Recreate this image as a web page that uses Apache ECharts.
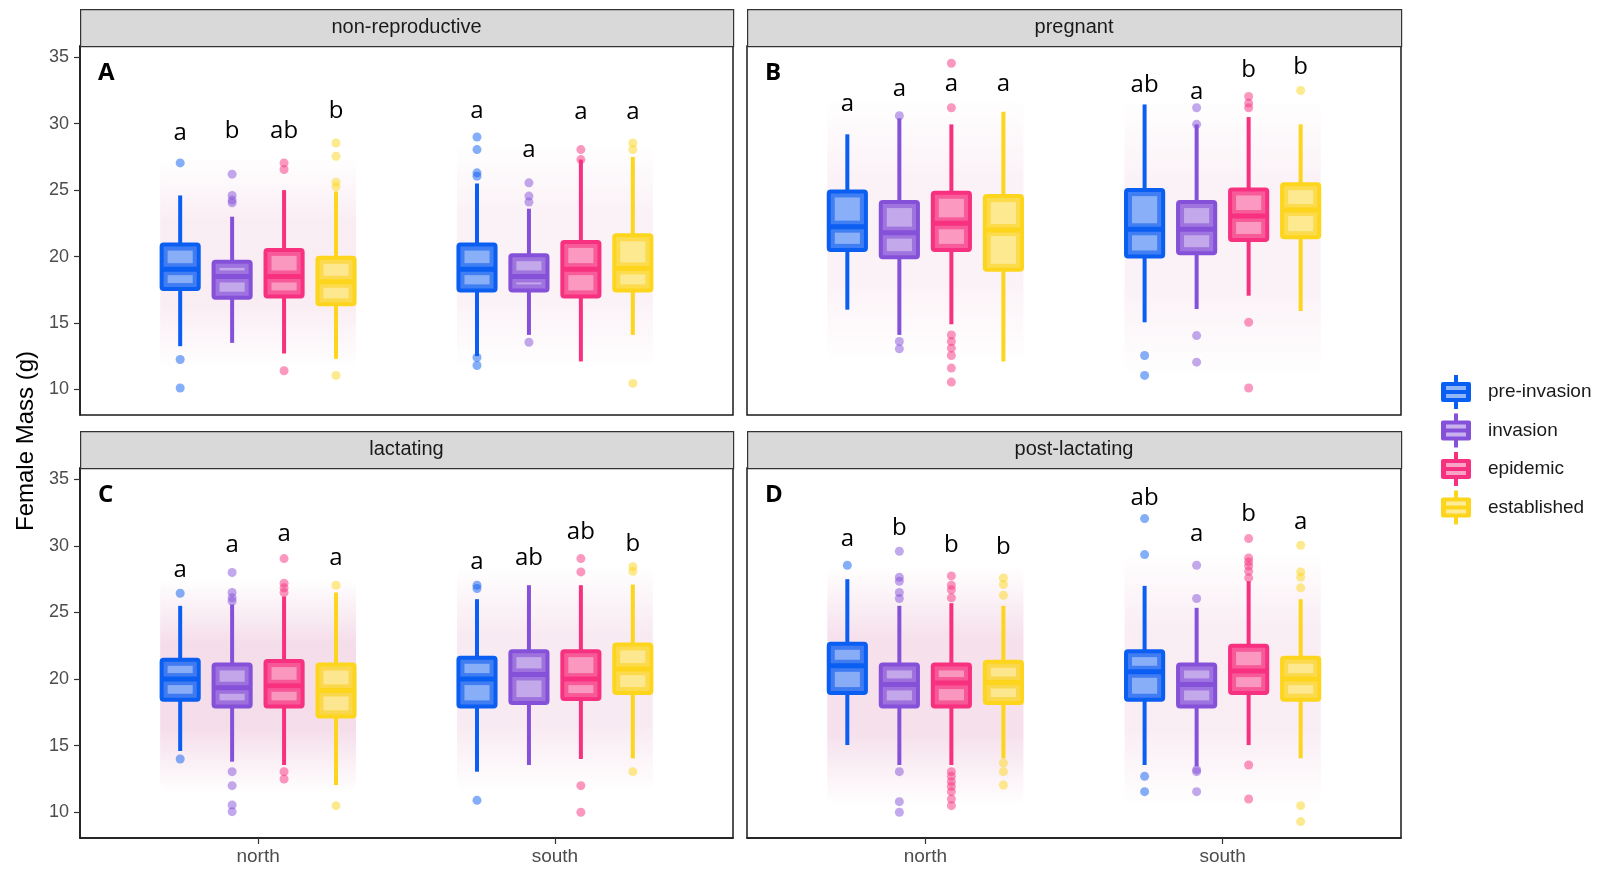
<!DOCTYPE html>
<html><head><meta charset="utf-8">
<script src="https://cdn.jsdelivr.net/npm/echarts@6/dist/echarts.min.js"></script>
<style>html,body{margin:0;padding:0;background:#fff}#c{width:1608px;height:872px}</style>
</head><body><div id="c"></div>
<script>
const facets = ['non-reproductive','pregnant','lactating','post-lactating'];
const panelTags = ['A','B','C','D'];
const sites = ['north','south'];
const groups = ['pre-invasion','invasion','epidemic','established'];
const yTicks = [10,15,20,25,30,35];

// box stats per group: [lower whisker, Q1, median, Q3, upper whisker]
const nonReproNorth = [[13.25,17.55,19.05,20.9,24.6],[13.5,16.9,18.5,19.6,23.0],[12.7,17.0,18.5,20.5,25.0],[12.3,16.4,18.1,19.9,24.9]];
const nonReproSouth = [[12.5,17.45,19.05,20.9,25.5],[14.1,17.45,18.5,20.1,23.6],[12.1,17.0,19.05,21.1,27.3],[14.1,17.45,19.1,21.6,27.5]];
const pregnantNorth = [[16.0,20.5,22.25,24.9,29.2],[14.1,19.95,21.8,24.1,30.4],[14.9,20.5,22.5,24.8,29.95],[12.1,19.0,22.0,24.55,30.9]];
const pregnantSouth = [[15.05,20.0,22.05,25.0,31.45],[16.05,20.25,22.05,24.1,29.95],[17.05,21.25,23.05,25.05,30.5],[15.9,21.45,23.5,25.45,29.95]];
const lactatingNorth = [[14.6,18.45,20.0,21.45,25.5],[13.8,17.95,19.35,21.1,25.6],[13.55,17.95,19.5,21.35,26.2],[12.05,17.2,19.15,21.1,26.5]];
const lactatingSouth = [[13.05,17.95,20.0,21.6,26.0],[13.55,18.2,20.35,22.1,27.05],[14.0,18.5,20.0,22.1,27.05],[14.05,18.95,20.75,22.6,27.1]];
const postLactNorth = [[15.05,18.95,21.0,22.65,27.5],[13.55,17.95,19.6,21.1,25.5],[13.55,17.95,19.7,21.1,25.7],[14.05,18.2,19.75,21.3,25.5]];
const postLactSouth = [[13.55,18.45,20.55,22.1,27.0],[13.45,17.95,19.6,21.1,25.35],[15.05,18.95,20.6,22.5,27.35],[14.05,18.45,20.0,21.6,26.0]];

// outliers per group
const nonReproNorthOut = [[27.05,12.25,10.1],[26.2,24.6,24.25,24.05],[27.05,26.55,11.4],[28.55,27.55,25.6,25.25,11.05]];
const nonReproSouthOut = [[29.0,28.05,26.3,26.05,12.4,11.8],[25.55,24.55,24.1,13.55],[28.05,27.3],[28.55,28.05,10.45]];
const pregnantNorthOut = [[],[30.6,13.6,13.05],[34.55,31.2,14.1,13.6,13.1,12.55,11.6,10.55],[]];
const pregnantSouthOut = [[12.55,11.05],[31.2,29.95,14.05,12.05],[32.05,31.55,31.2,15.05,10.1],[32.5]];
const lactatingNorthOut = [[26.45,14.0],[28.0,26.5,26.1,25.85,13.05,12.0,10.55,10.05],[29.05,27.2,26.85,26.5,13.05,12.5],[27.05,10.5]];
const lactatingSouthOut = [[27.05,26.8,10.9],[],[29.05,28.05,12.0,10.0],[28.45,28.1,13.05]];
const postLactNorthOut = [[28.55],[29.6,27.65,27.35,26.5,26.05,13.05,10.8,10.0],[27.75,27.05,26.7,26.1,13.05,12.7,12.3,11.95,11.55,11.0,10.5],[27.6,27.1,26.3,13.7,13.05,12.05]];
const postLactSouthOut = [[32.05,29.35,12.7,11.55],[28.55,26.05,13.2,13.05,11.55],[30.55,29.1,28.8,28.5,28.1,27.6,13.55,11.0],[30.05,28.05,27.65,26.85,10.5,9.3]];

// significance letters and their heights
const nonReproNorthLetters = ['a','b','ab','b'];   const nonReproNorthLetterY = [29.3,29.45,29.45,30.95];
const nonReproSouthLetters = ['a','a','a','a'];    const nonReproSouthLetterY = [30.95,28.0,30.9,30.9];
const pregnantNorthLetters = ['a','a','a','a'];    const pregnantNorthLetterY = [31.5,32.6,33.0,32.95];
const pregnantSouthLetters = ['ab','a','b','b'];   const pregnantSouthLetterY = [32.9,32.4,34.05,34.25];
const lactatingNorthLetters = ['a','a','a','a'];   const lactatingNorthLetterY = [28.2,30.05,30.85,29.05];
const lactatingSouthLetters = ['a','ab','ab','b']; const lactatingSouthLetterY = [28.75,29.1,31.0,30.15];
const postLactNorthLetters = ['a','b','b','b'];    const postLactNorthLetterY = [30.5,31.3,30.05,29.9];
const postLactSouthLetters = ['ab','a','b','a'];   const postLactSouthLetterY = [33.6,30.85,32.4,31.75];

// extent of the faint jittered-point cloud per panel/site [low, high]
const cloudNonRepro = [[11.5,27.5],[11.5,28.5]];
const cloudPregnant = [[12,32],[11,32]];
const cloudLactating = [[11.5,27.5],[11.5,28.5]];
const cloudPostLact = [[10.5,28.5],[10.5,29.5]];

// ---------- assembly ----------
const stats = [[nonReproNorth,nonReproSouth],[pregnantNorth,pregnantSouth],[lactatingNorth,lactatingSouth],[postLactNorth,postLactSouth]];
const outs = [[nonReproNorthOut,nonReproSouthOut],[pregnantNorthOut,pregnantSouthOut],[lactatingNorthOut,lactatingSouthOut],[postLactNorthOut,postLactSouthOut]];
const letters = [[nonReproNorthLetters,nonReproSouthLetters],[pregnantNorthLetters,pregnantSouthLetters],[lactatingNorthLetters,lactatingSouthLetters],[postLactNorthLetters,postLactSouthLetters]];
const letterYs = [[nonReproNorthLetterY,nonReproSouthLetterY],[pregnantNorthLetterY,pregnantSouthLetterY],[lactatingNorthLetterY,lactatingSouthLetterY],[postLactNorthLetterY,postLactSouthLetterY]];
const clouds = [cloudNonRepro,cloudPregnant,cloudLactating,cloudPostLact];

const groupColors = ['#0b5ef2','#8551d9','#f7317f','#fdd51d'];
const cloudAlpha = [[0.22,0.16],[0.16,0.16],[0.42,0.26],[0.38,0.22]];
const dodgeStep = 0.175, boxWidth = 0.125, cloudHalf = 0.33;
const FONT = '"Liberation Sans", Arial, sans-serif';

function rgba(hex, a) {
  const n = parseInt(hex.slice(1), 16);
  return 'rgba(' + (n >> 16) + ',' + ((n >> 8) & 255) + ',' + (n & 255) + ',' + a + ')';
}
function tint(hex, t) {
  const n = parseInt(hex.slice(1), 16);
  const c = [n >> 16, (n >> 8) & 255, n & 255].map(v => Math.round(v + (255 - v) * t));
  return 'rgb(' + c.join(',') + ')';
}

const gridPos = [
  {left:80, top:46, width:653, height:369},
  {left:747, top:46, width:654, height:369},
  {left:80, top:468, width:653, height:370},
  {left:747, top:468, width:654, height:370}
];
const grids = gridPos.map(p => Object.assign({show:true, borderColor:'#1a1a1a', borderWidth:1.5, backgroundColor:'transparent'}, p));

const xAxes = gridPos.map((p, f) => ({
  gridIndex: f, type: 'value', min: 0.4, max: 2.6,
  axisLine: {show: f >= 2, lineStyle: {color: '#1a1a1a', width: 1.5}},
  axisTick: {show: f >= 2, customValues: [1, 2], length: 6, lineStyle: {color: '#333', width: 1.2}},
  axisLabel: {show: f >= 2, customValues: [1, 2], formatter: v => sites[Math.round(v) - 1], fontSize: 19, color: '#4d4d4d', fontFamily: FONT, margin: 9},
  splitLine: {show: false}
}));
const yAxes = gridPos.map((p, f) => ({
  gridIndex: f, type: 'value', min: 8.07, max: 35.85,
  axisLine: {show: f % 2 === 0, lineStyle: {color: '#1a1a1a', width: 1.5}},
  axisTick: {show: f % 2 === 0, customValues: yTicks, length: 6, lineStyle: {color: '#333', width: 1.2}},
  axisLabel: {show: f % 2 === 0, customValues: yTicks, fontSize: 18, color: '#4d4d4d', fontFamily: FONT, margin: 11},
  splitLine: {show: false}
}));

const series = [];
// clouds
for (let f = 0; f < 4; f++) {
  series.push({
    type: 'custom', xAxisIndex: f, yAxisIndex: f, z: 1, silent: true,
    data: clouds[f].map((c, s) => [s + 1, c[0], c[1]]),
    renderItem: function (params, api) {
      const x = api.value(0);
      const a = api.coord([x - cloudHalf, api.value(2)]);
      const b = api.coord([x + cloudHalf, api.value(1)]);
      const al = cloudAlpha[f][params.dataIndex];
      return {
        type: 'rect',
        shape: {x: a[0], y: a[1], width: b[0] - a[0], height: b[1] - a[1], r: 10},
        style: {fill: {type: 'linear', x: 0, y: 0, x2: 0, y2: 1, colorStops: [
          {offset: 0, color: 'rgba(230,175,205,0)'},
          {offset: 0.3, color: 'rgba(230,175,205,' + al + ')'},
          {offset: 0.7, color: 'rgba(230,175,205,' + al + ')'},
          {offset: 1, color: 'rgba(230,175,205,0)'}]}}
      };
    }
  });
}
// boxes + letters
for (let f = 0; f < 4; f++) {
  for (let g = 0; g < 4; g++) {
    const col = groupColors[g];
    series.push({
      type: 'custom', name: groups[g], xAxisIndex: f, yAxisIndex: f, z: 3,
      itemStyle: {color: col},
      data: [0, 1].map(s => [s + 1].concat(stats[f][s][g]).concat([letterYs[f][s][g]])),
      renderItem: function (params, api) {
        const xc = api.value(0) + (g - 1.5) * dodgeStep;
        const lo = api.coord([xc, api.value(1)]);
        const q1 = api.coord([xc, api.value(2)]);
        const md = api.coord([xc, api.value(3)]);
        const q3 = api.coord([xc, api.value(4)]);
        const hi = api.coord([xc, api.value(5)]);
        const lt = api.coord([xc, api.value(6)]);
        const w = api.size([boxWidth, 0])[0];
        const x0 = q1[0] - w / 2;
        const ins = 6;
        const kids = [
          {type: 'line', shape: {x1: hi[0], y1: hi[1], x2: q3[0], y2: q3[1]}, style: {stroke: col, lineWidth: 4}},
          {type: 'line', shape: {x1: q1[0], y1: q1[1], x2: lo[0], y2: lo[1]}, style: {stroke: col, lineWidth: 4}},
          {type: 'rect', shape: {x: x0, y: q3[1], width: w, height: q1[1] - q3[1], r: 2}, style: {fill: rgba(col, 0.78), stroke: col, lineWidth: 4}}
        ];
        const uh = md[1] - ins - (q3[1] + ins);
        if (uh > 0) kids.push({type: 'rect', shape: {x: x0 + ins, y: q3[1] + ins, width: w - 2 * ins, height: uh}, style: {fill: 'rgba(255,255,255,0.38)'}});
        const lh = q1[1] - ins - (md[1] + ins);
        if (lh > 0) kids.push({type: 'rect', shape: {x: x0 + ins, y: md[1] + ins, width: w - 2 * ins, height: lh}, style: {fill: 'rgba(255,255,255,0.38)'}});
        kids.push({type: 'line', shape: {x1: x0, y1: md[1], x2: x0 + w, y2: md[1]}, style: {stroke: col, lineWidth: 5}});
        kids.push({type: 'text', x: lt[0], y: lt[1], style: {text: letters[f][params.dataIndex][g], fill: '#000', fontSize: 24, fontFamily: '"Open Sans", "Noto Sans", sans-serif', align: 'center', verticalAlign: 'middle', textAlign: 'center', textVerticalAlign: 'middle'}});
        return {type: 'group', children: kids};
      }
    });
    // outliers
    const od = [];
    [0, 1].forEach(s => outs[f][s][g].forEach(v => od.push([s + 1 + (g - 1.5) * dodgeStep, v])));
    series.push({
      type: 'scatter', name: groups[g], xAxisIndex: f, yAxisIndex: f, z: 4,
      symbolSize: 9, itemStyle: {color: col, opacity: 0.5}, data: od, silent: true
    });
  }
}

const graphics = [];
gridPos.forEach((p, f) => {
  const top = f < 2 ? 9 : 431;
  graphics.push({type: 'rect', left: p.left, top: top, shape: {width: p.width, height: 37}, style: {fill: '#d9d9d9', stroke: '#333', lineWidth: 1.2}, z: 10});
  graphics.push({type: 'text', x: p.left + p.width / 2, y: top + 18.5, style: {text: facets[f], fill: '#1a1a1a', fontSize: 20, fontFamily: FONT, align: 'center', verticalAlign: 'middle', textAlign: 'center', textVerticalAlign: 'middle'}, z: 11});
  graphics.push({type: 'text', x: p.left + 18, y: p.top + 27, style: {text: panelTags[f], fill: '#000', fontSize: 24, fontWeight: 'bold', fontFamily: '"Open Sans", sans-serif', align: 'left', verticalAlign: 'middle', textAlign: 'left', textVerticalAlign: 'middle'}, z: 11});
});
graphics.push({type: 'text', x: 26, y: 441, rotation: Math.PI / 2, style: {text: 'Female Mass (g)', fill: '#000', fontSize: 24, fontFamily: FONT, align: 'center', verticalAlign: 'middle', textAlign: 'center', textVerticalAlign: 'middle'}, z: 11});

const legendBoxIcon = 'path://M13,0L17,0L17,7L28,7Q30,7,30,9L30,25Q30,27,28,27L17,27L17,34L13,34L13,27L2,27Q0,27,0,25L0,9Q0,7,2,7L13,7Z';
const legendStripeIcon = 'path://M0,0L0.05,0L0.05,0.05Z M30,34L29.95,34L29.95,33.95Z M5,11L25,11L25,15L5,15Z M5,19L25,19L25,23L5,23Z';
const legendCommon = {orient: 'vertical', left: 1436, top: 370, itemWidth: 30, itemHeight: 34, itemGap: 4.5, selectedMode: false};

const chart = echarts.init(document.getElementById('c'), null, {renderer: 'canvas'});
chart.setOption({
  backgroundColor: '#ffffff',
  animation: false,
  grid: grids,
  xAxis: xAxes,
  yAxis: yAxes,
  legend: [
    Object.assign({icon: legendBoxIcon, data: groups,
      textStyle: {fontSize: 19, color: '#1a1a1a', fontFamily: FONT, padding: [0, 0, 0, 12]}}, legendCommon),
    Object.assign({icon: legendStripeIcon, z: 5,
      data: groups.map((g, i) => ({name: g, itemStyle: {color: tint(groupColors[i], 0.55), opacity: 1}})),
      textStyle: {fontSize: 19, color: 'rgba(0,0,0,0)', fontFamily: FONT, padding: [0, 0, 0, 12]}}, legendCommon)
  ],
  series: series,
  graphic: {elements: graphics}
});
</script>
</body></html>
